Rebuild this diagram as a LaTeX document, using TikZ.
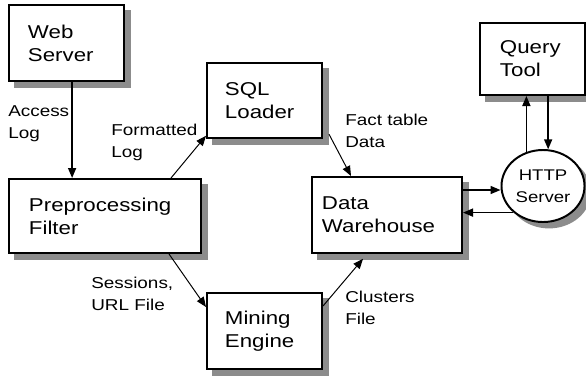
\documentclass[tikz,border=0pt]{standalone}
\usepackage{fontspec}
\setmainfont{Liberation Sans}[FakeStretch=1.2]
\usetikzlibrary{arrows.meta,shapes.geometric,backgrounds}

\begin{document}
\begin{tikzpicture}[x=0.025cm,y=-0.025cm,
  box/.style={draw,line width=1.4pt,fill=white,align=left,inner ysep=0pt,
    minimum height=1.9cm,font=\fontsize{13.2}{16.5}\selectfont},
  srv/.style={draw,ellipse,line width=1.4pt,fill=white,align=center,inner sep=0pt,
    minimum width=2.075cm,minimum height=1.8cm,font=\fontsize{11}{16}\selectfont},
  lbl/.style={anchor=north west,inner sep=0pt,align=left,font=\fontsize{11.2}{15.6}\selectfont},
  arr/.style={line width=1.1pt,-{Triangle[length=0.25cm,width=0.2cm]}},
  diag/.style={arr,line width=0.7pt}]
\useasboundingbox (0,0) rectangle (586,377);

% boxes
\node[box,text width=1.925cm,inner xsep=0.475cm] (web) at (66.5,43) {Web\\Server};
\node[box,text width=1.975cm,inner xsep=0.45cm,minimum height=1.875cm] (sql) at (264.5,100.5) {SQL\\Loader};
\node[box,text width=1.625cm,inner xsep=0.5cm,minimum height=1.8cm] (query) at (532.5,59) {Query\\Tool};
\node[box,text width=3.8cm,inner xsep=0.5cm,minimum height=1.85cm] (pre) at (105,216) {Preprocessing\\Filter};
\node[box,text width=1.975cm,inner xsep=0.45cm] (mine) at (264.5,331) {Mining\\Engine};
\node[box,text width=3.25cm,inner xsep=0.25cm] (dw) at (387,215) {Data\\Warehouse};
\node[srv] (http) at (543,186) {HTTP\\Server};

% shadows
\begin{scope}[on background layer]
\foreach \n in {web,sql,query,pre,mine,dw}{
  \fill[black!45] ([shift={(0.15cm,-0.15cm)}]\n.south west) rectangle ([shift={(0.15cm,-0.15cm)}]\n.north east);
}
\fill[black!45] ([shift={(0.15cm,-0.15cm)}]http.center) ellipse [x radius=1.05cm,y radius=0.91cm];
\end{scope}

% labels
\node[lbl] (acc) at (8,105) {Access\\Log};
\node[lbl] (fmt) at (111,124) {Formatted\\Log};
\node[lbl] (fact) at (345,114) {Fact table\\Data};
\node[lbl] (sess) at (91,277) {Sessions,\\URL File};
\node[lbl] (clu) at (345,291) {Clusters\\File};

% arrows
\coordinate (webout) at ([xshift=0.14cm]web.south);
\draw[arr] (webout) -- (webout |- pre.north);
\draw[diag] ([xshift=-0.775cm]pre.north east) -- ([yshift=0.08cm]sql.south west);
\draw[diag] ([xshift=-0.825cm]pre.south east) -- ([yshift=-0.375cm]mine.north west);
\draw[diag] ([xshift=0.15cm,yshift=0.12cm]sql.south east) -- ([xshift=1cm]dw.north west);
\draw[diag] ([yshift=-0.35cm]mine.north east) -- ([xshift=1.3cm,yshift=-0.12cm]dw.south west);
\coordinate (dwout) at ([yshift=-0.35cm]dw.north east);
\draw[arr] (dwout) -- (dwout -| http.west);
\draw[arr] (http.222) -- (http.222 -| dw.east);
\draw[arr] (http.116) -- (http.116 |- query.south);
\draw[arr] (http.82 |- query.south) -- (http.82);
\end{tikzpicture}
\end{document}
